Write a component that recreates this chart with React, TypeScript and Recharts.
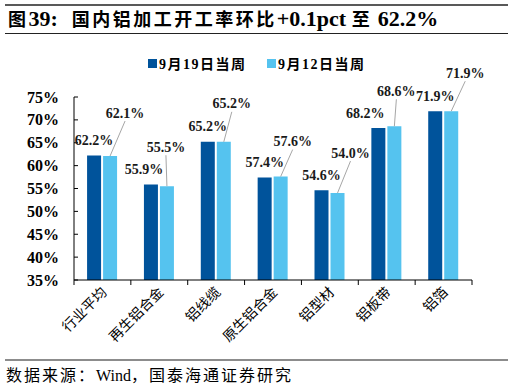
import React from "react";
import { BarChart, Bar, XAxis, YAxis, LabelList } from "recharts";

const categories = ["行业平均", "再生铝合金", "铝线缆", "原生铝合金", "铝型材", "铝板带", "铝箔"];
const week919 = [62.2, 55.9, 65.2, 57.4, 54.6, 68.2, 71.9];
const week912 = [62.1, 55.5, 65.2, 57.6, 54.0, 68.6, 71.9];
const yTicks = [35, 40, 45, 50, 55, 60, 65, 70, 75];

const seriesNames = ["9月19日当周", "9月12日当周"];
const colors = ["#00539B", "#55C3EF"];

// label placement tweaks (px) — copied by eye from the reference
const darkShift = [0, -7, 0, 0, 0, -13, 0];
const leaderOffsets: [number, number][] = [
  [15, -43],
  [-1, -39],
  [8, -38],
  [12, -35],
  [13, -40],
  [2, -35],
  [14, -38],
];

const data = categories.map((name, i) => ({
  name,
  a: week919[i],
  b: week912[i],
}));

const SERIF = '"Liberation Serif", "Times New Roman", "Noto Sans CJK SC", serif';
const CJK = '"Liberation Serif", "Noto Sans CJK SC", serif';

const W = 512;
const H = 387;
const PLOT_LEFT = 74;
const PLOT_RIGHT = 472;
const PLOT_TOP = 97;
const PLOT_BOTTOM = 280;
const band = (PLOT_RIGHT - PLOT_LEFT) / categories.length;

const DarkLabel = (props: any) => {
  const { x, y, width, value, index } = props;
  const cx = x + width / 2 + darkShift[index];
  return (
    <text
      x={cx}
      y={y - 15}
      textAnchor="middle"
      dominantBaseline="central"
      fontFamily={SERIF}
      fontWeight={700}
      fontSize={14}
      fill="#1a1a1a"
    >
      {value.toFixed(1)}%
    </text>
  );
};

const LightLabel = (props: any) => {
  const { x, y, width, value, index } = props;
  const cx = x + width / 2;
  const [dx, dy] = leaderOffsets[index];
  return (
    <g>
      <line x1={cx} y1={y} x2={cx + dx} y2={y + dy + 8} stroke="#A6A6A6" strokeWidth={1} />
      <text
        x={cx + dx}
        y={y + dy}
        textAnchor="middle"
        dominantBaseline="central"
        fontFamily={SERIF}
        fontWeight={700}
        fontSize={14}
        fill="#1a1a1a"
      >
        {value.toFixed(1)}%
      </text>
    </g>
  );
};

const YTick = (props: any) => {
  const { x, y, payload } = props;
  return (
    <g>
      <line x1={x} y1={y} x2={x + 4} y2={y} stroke="#000" />
      <text
        x={x - 15}
        y={y}
        textAnchor="end"
        dominantBaseline="central"
        fontFamily={SERIF}
        fontWeight={700}
        fontSize={16}
        fill="#000"
      >
        {payload.value}%
      </text>
    </g>
  );
};

const XTick = (props: any) => {
  const { x, y, payload, index } = props;
  const left = x - band / 2;
  return (
    <g>
      <line x1={left} y1={y} x2={left} y2={y + 5} stroke="#000" />
      {index === categories.length - 1 && (
        <line x1={x + band / 2} y1={y} x2={x + band / 2} y2={y + 5} stroke="#000" />
      )}
      <text
        x={x + 2}
        y={y + 10}
        textAnchor="end"
        dominantBaseline="central"
        transform={`rotate(-45, ${x + 2}, ${y + 10})`}
        fontFamily={CJK}
        fontSize={14}
        fill="#000"
      >
        {payload.value}
      </text>
    </g>
  );
};

const latin = { letterSpacing: 0 };
const titleLatin = { fontSize: 22, letterSpacing: 0, fontFamily: SERIF };

export default function App() {
  return (
    <div
      style={{
        position: "absolute",
        left: 0,
        top: 0,
        width: W,
        height: H,
        background: "#fff",
        overflow: "hidden",
      }}
    >
      <div style={{ position: "absolute", left: 5, top: 4, width: 503, height: 2, background: "#595959" }} />
      <div
        style={{
          position: "absolute",
          left: 8,
          top: 5,
          fontFamily: CJK,
          fontWeight: 700,
          fontSize: 18,
          letterSpacing: 2.5,
          whiteSpace: "nowrap",
          color: "#000",
        }}
      >
        图<span style={{ ...titleLatin, marginRight: 14 }}>39:</span>国内铝加工开工率环比
        <span style={titleLatin}>+0.1pct </span>至<span style={titleLatin}> 62.2%</span>
      </div>
      <div style={{ position: "absolute", left: 5, top: 33, width: 503, height: 1, background: "#222" }} />

      {/* legend */}
      {seriesNames.map((n, i) => (
        <div
          key={n}
          style={{
            position: "absolute",
            left: i === 0 ? 148 : 267,
            top: 53,
            display: "flex",
            alignItems: "center",
            fontFamily: CJK,
            fontWeight: 700,
            fontSize: 14,
            letterSpacing: 1.5,
            whiteSpace: "nowrap",
            color: "#000",
          }}
        >
          <span style={{ display: "inline-block", width: 9, height: 9, background: colors[i], marginRight: 2 }} />
          {n}
        </div>
      ))}

      <div style={{ position: "absolute", left: 0, top: 0 }}>
        <BarChart
          width={W}
          height={H}
          data={data}
          margin={{ top: PLOT_TOP, right: W - PLOT_RIGHT, bottom: 0, left: 0 }}
          barCategoryGap="23%"
          barGap={2}
        >
          <XAxis
            dataKey="name"
            axisLine={{ stroke: "#000" }}
            tickLine={false}
            tickSize={0}
            tickMargin={0}
            interval={0}
            height={H - PLOT_BOTTOM}
            tick={<XTick />}
          />
          <YAxis
            type="number"
            domain={[35, 75]}
            ticks={yTicks}
            interval={0}
            allowDataOverflow
            width={PLOT_LEFT}
            axisLine={{ stroke: "#000" }}
            tickLine={false}
            tickSize={0}
            tickMargin={0}
            tick={<YTick />}
          />
          <Bar dataKey="a" fill={colors[0]} isAnimationActive={false}>
            <LabelList dataKey="a" content={<DarkLabel />} />
          </Bar>
          <Bar dataKey="b" fill={colors[1]} isAnimationActive={false}>
            <LabelList dataKey="b" content={<LightLabel />} />
          </Bar>
        </BarChart>
      </div>

      <div style={{ position: "absolute", left: 5, top: 359, width: 503, height: 2, background: "#8c8c8c" }} />
      <div
        style={{
          position: "absolute",
          left: 6,
          top: 362,
          fontFamily: CJK,
          fontSize: 16,
          letterSpacing: 2,
          whiteSpace: "nowrap",
          color: "#000",
        }}
      >
        数据来源：<span style={latin}>Wind</span>，国泰海通证券研究
      </div>
    </div>
  );
}
